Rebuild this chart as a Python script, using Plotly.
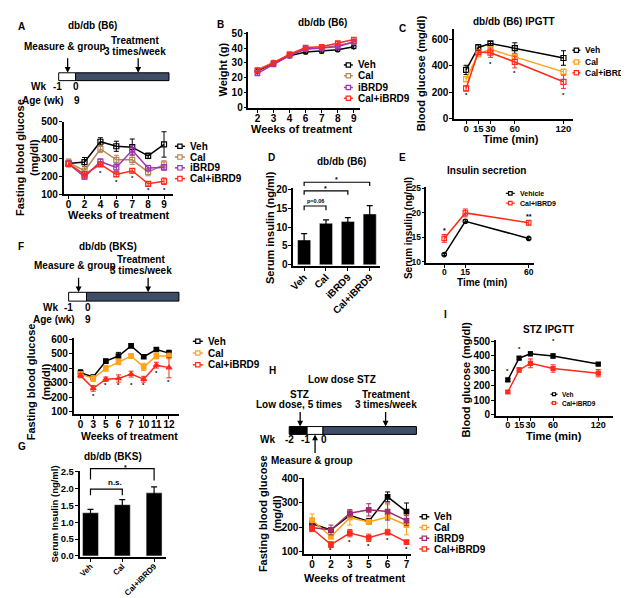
import plotly.graph_objects as go

W, H = 629, 598
FONT = "Liberation Sans, Arial, sans-serif"

# ---------------- DATA ----------------
A_weeks = ["0", "2", "4", "6", "7", "8", "9"]
A_veh = [270, 278, 390, 365, 360, 312, 375]
A_veh_err = [18, 25, 22, 28, 45, 15, 70]
A_cal = [275, 230, 350, 290, 290, 222, 265]
A_cal_err = [20, 25, 20, 25, 25, 20, 20]
A_ibrd = [268, 197, 280, 248, 343, 245, 248]
A_ibrd_err = [15, 12, 15, 20, 25, 15, 15]
A_combo = [268, 210, 265, 210, 230, 158, 172]
A_combo_err = [12, 15, 12, 12, 12, 12, 18]
A_star_idx = [2, 3, 4, 5, 6]
A_star_y = [215, 166, 188, 122, 122]

B_weeks = ["2", "3", "4", "6", "7", "8", "9"]
B_veh = [24.5, 29.5, 35, 37.5, 38, 39, 41]
B_cal = [25.5, 30.5, 35.5, 39.5, 40, 42, 44]
B_ibrd = [23, 29, 35, 39.5, 40, 41, 44.5]
B_combo = [25, 30, 36, 40.5, 41, 43.5, 46]
B_err = [1.2, 1.2, 1.0, 1.2, 1.2, 1.2, 1.2]

C_time = [0, 15, 30, 60, 120]
C_veh = [370, 540, 570, 535, 460]
C_veh_err = [35, 22, 15, 40, 55]
C_cal = [300, 490, 525, 470, 355]
C_cal_err = [20, 20, 20, 20, 20]
C_combo = [230, 505, 500, 430, 280]
C_combo_err = [20, 20, 35, 45, 50]
C_star_x = [0, 30, 60, 120]
C_star_y = [178, 415, 348, 178]

D_groups = ["Veh", "Cal", "iBRD9", "Cal+iBRD9"]
D_mean = [6.6, 11.0, 11.5, 13.5]
D_err = [1.7, 0.9, 1.0, 2.2]

E_time = [0, 15, 60]
E_veh = [11.5, 18.3, 14.8]
E_veh_err = [0.2, 0.3, 0.2]
E_combo = [14.8, 20.0, 18.0]
E_combo_err = [0.8, 0.8, 0.5]

F_weeks = ["0", "3", "5", "6", "7", "10", "11", "12"]
F_veh = [370, 340, 450, 485, 555, 480, 530, 505]
F_veh_err = [20, 10, 10, 25, 12, 10, 12, 20]
F_cal = [360, 330, 400, 445, 485, 410, 485, 485]
F_cal_err = [15, 20, 20, 20, 15, 25, 20, 20]
F_combo = [350, 262, 325, 330, 360, 325, 422, 405]
F_combo_err = [15, 20, 15, 25, 20, 20, 20, 70]
F_star_idx = [1, 2, 3, 4, 5, 6, 7]
F_star_y = [208, 282, 282, 282, 282, 368, 303]

G_groups = ["Veh", "Cal", "Cal+iBRD9"]
G_mean = [1.28, 1.52, 1.87]
G_err = [0.10, 0.15, 0.18]

H_weeks = ["0", "2", "3", "5", "6", "7"]
H_veh = [215, 190, 250, 225, 325, 265]
H_veh_err = [15, 10, 10, 12, 20, 35]
H_cal = [230, 163, 240, 222, 243, 210]
H_cal_err = [25, 10, 30, 10, 50, 40]
H_ibrd = [200, 190, 258, 272, 265, 228]
H_ibrd_err = [15, 20, 15, 25, 35, 20]
H_combo = [195, 130, 177, 158, 180, 140]
H_combo_err = [12, 12, 15, 15, 10, 8]
H_star_idx = [1, 2, 3, 4, 5]
H_star_y = [110, 140, 124, 148, 112]

I_time = [0, 15, 30, 60, 120]
I_veh = [237, 385, 415, 400, 345]
I_veh_err = [10, 10, 12, 15, 10]
I_combo = [155, 305, 350, 315, 283]
I_combo_err = [8, 15, 30, 25, 25]
I_star_x = [0, 15, 60]
I_star_y = [300, 450, 500]

# ---------------- COLOURS ----------------
BLACK = "#000000"
TAN = "#B5865E"
ORANGE = "#FFA31A"
PURPLE = "#A032B4"
MAROON = "#9E2D6E"
RED = "#FF2A1A"
DARK = "#3E4D68"

# ---------------- HELPERS ----------------
def px(x):
    return x / W

def py(y):
    return 1 - y / H

def lin_range(v0, p0, v1, p1, d0, d1):
    s = (v1 - v0) / (p1 - p0)
    return [v0 + (d0 - p0) * s, v0 + (d1 - p0) * s]

def cat_range(n, first, last, d0, d1):
    sp = (last - first) / (n - 1)
    return [-(first - d0) / sp, (n - 1) + (d1 - last) / sp]

fig = go.Figure()
layout = {}
annotations = []
shapes = []
counter = [0]

def tfont(size=9.5, color=BLACK):
    return dict(family=FONT, size=size, color=color, weight="bold")

def add_axes(xd, yd, xr, yr, xcat=False, xtickvals=None, ytickvals=None, tickangle=0,
             tsize=10, xtsize=None):
    counter[0] += 1
    n = counter[0]
    sfx = "" if n == 1 else str(n)
    common = dict(showline=True, linecolor=BLACK, linewidth=1.5, ticks="outside",
                  ticklen=3, tickwidth=1.3, tickcolor=BLACK, showgrid=False,
                  zeroline=False, tickfont=tfont(tsize), fixedrange=True)
    xa = dict(common, domain=[px(xd[0]), px(xd[1])], range=xr, anchor="y" + sfx,
              tickangle=tickangle, tickfont=tfont(xtsize if xtsize else tsize),
              ticklabelstandoff=-3)
    if xcat:
        xa["type"] = "category"
    else:
        xa["tickvals"] = xtickvals
    ya = dict(common, domain=[py(yd[1]), py(yd[0])], range=yr, anchor="x" + sfx,
              tickvals=ytickvals, ticklabelstandoff=-1)
    layout["xaxis" + sfx] = xa
    layout["yaxis" + sfx] = ya
    return "x" + sfx, "y" + sfx

def line_trace(xa, ya, x, y, err, color, symbol, size=5, width=1.5):
    fig.add_trace(go.Scatter(
        x=x, y=y, xaxis=xa, yaxis=ya, mode="lines+markers",
        line=dict(color=color, width=width),
        marker=dict(color=color, symbol=symbol, size=size, line=dict(color=color, width=1.2)),
        error_y=dict(type="data", array=err, color=color, thickness=1, width=2.5, visible=True),
        showlegend=False, hoverinfo="skip"))

def text(x, y, s, size=10, xanchor="center", angle=0, color=BLACK):
    annotations.append(dict(x=px(x), y=py(y), xref="paper", yref="paper", text=s,
                            showarrow=False, font=tfont(size, color), xanchor=xanchor,
                            yanchor="middle", textangle=angle))

def arrow(x, y0, y1):
    # tail at pixel y0, head at pixel y1
    annotations.append(dict(x=px(x), y=py(y1), xref="paper", yref="paper",
                            axref="pixel", ayref="pixel", ax=0, ay=(y0 - y1), text="",
                            showarrow=True, arrowhead=2, arrowsize=0.9, arrowwidth=1.3,
                            arrowcolor=BLACK))

def rect(x0, x1, y0, y1, fill):
    shapes.append(dict(type="rect", xref="paper", yref="paper", x0=px(x0), x1=px(x1),
                       y0=py(y1), y1=py(y0), fillcolor=fill, line=dict(color=BLACK, width=1)))

def legend(entries, lx0, lx1, ys, size=10, msize=2.2, lw=1.5):
    for (name, color), y in zip(entries, ys):
        shapes.append(dict(type="line", xref="paper", yref="paper", x0=px(lx0), x1=px(lx1),
                           y0=py(y), y1=py(y), line=dict(color=color, width=lw)))
        xm = (lx0 + lx1) / 2
        shapes.append(dict(type="rect", xref="paper", yref="paper", x0=px(xm - msize),
                           x1=px(xm + msize), y0=py(y + msize), y1=py(y - msize),
                           fillcolor="white", line=dict(color=color, width=1.2)))
        text(lx1 + 3, y, name, size=size, xanchor="left")

def stars(xa, ya, xs, ys, s="*", size=6):
    for xv, yv in zip(xs, ys):
        annotations.append(dict(x=xv, y=yv, xref=xa, yref=ya, text=s, showarrow=False,
                                font=tfont(size), xanchor="center", yanchor="middle"))

def bracket(first, sp, v0, p0, pscale, i0, i1, ytop, ylow0, ylow1, label, lsize=7, lshift=-3):
    # converts category index / value into pixel positions of the panel
    def X(i):
        return px(first + sp * i)
    def Y(v):
        return py(p0 - (v - v0) * pscale)
    shapes.append(dict(type="path", xref="paper", yref="paper",
                       path=f"M {X(i0)} {Y(ylow0)} L {X(i0)} {Y(ytop)} L {X(i1)} {Y(ytop)} L {X(i1)} {Y(ylow1)}",
                       line=dict(color=BLACK, width=1.2)))
    annotations.append(dict(x=(X(i0) + X(i1)) / 2, y=Y(ytop), xref="paper", yref="paper",
                            text=label, showarrow=False, font=tfont(lsize), yanchor="bottom",
                            yshift=lshift))

# ---------------- PANEL A ----------------
text(4, 13, "A", 10, "left")
text(81, 12, "db/db (B6)")
text(53, 33, "Measure & group")
text(124, 27, "Treatment")
text(124, 38, "3 times/week")
rect(47, 64, 60, 68, "white")
rect(64, 158, 60, 68, DARK)
arrow(56, 44, 60)
arrow(127, 44, 60)
text(27, 74, "Wk")
text(46, 74, "-1")
text(64, 74, "0")
text(31, 88, "Age (wk)")
text(65, 88, "9")

xa, ya = add_axes([52, 162], [110, 184], cat_range(7, 57, 153, 52, 162),
                  [100, 500], xcat=True, ytickvals=[100, 200, 300, 400, 500])
line_trace(xa, ya, A_weeks, A_veh, A_veh_err, BLACK, "square-open")
line_trace(xa, ya, A_weeks, A_cal, A_cal_err, TAN, "square-open")
line_trace(xa, ya, A_weeks, A_ibrd, A_ibrd_err, PURPLE, "square-open")
line_trace(xa, ya, A_weeks, A_combo, A_combo_err, RED, "square-open")
stars(xa, ya, A_star_idx, A_star_y)
text(15, 146, "Fasting blood glucose<br>(mg/dl)", 11, angle=-90)
text(108, 205, "Weeks of treatment", 11)
legend([("Veh", BLACK), ("Cal", TAN), ("iBRD9", PURPLE), ("Cal+iBRD9", RED)],
       164, 174, [135, 146, 157, 168])

# ---------------- PANEL B ----------------
text(204, 11, "B", 10, "left")
text(312, 9, "db/db (B6)")
xa, ya = add_axes([238, 350], [18, 96], cat_range(7, 247, 344, 238, 350),
                  lin_range(50, 20, 0, 95, 96, 18), xcat=True,
                  ytickvals=[0, 10, 20, 30, 40, 50])
line_trace(xa, ya, B_weeks, B_veh, B_err, BLACK, "circle-open", 4.5)
line_trace(xa, ya, B_weeks, B_cal, B_err, TAN, "circle-open", 4.5)
line_trace(xa, ya, B_weeks, B_ibrd, B_err, PURPLE, "square-open", 4.5)
line_trace(xa, ya, B_weeks, B_combo, B_err, RED, "square-open", 4.5)
text(212, 57, "Weight (g)", 11, angle=-90)
text(292, 117, "Weeks of treatment", 11)
legend([("Veh", BLACK), ("Cal", TAN), ("iBRD9", PURPLE), ("Cal+iBRD9", RED)],
       334, 343, [52, 63, 75, 86])

# ---------------- PANEL C ----------------
text(387, 15, "C", 10, "left")
text(505, 8, "db/db (B6) IPGTT")
xa, ya = add_axes([445, 565], [15, 107], lin_range(0, 457, 120, 555, 445, 565),
                  lin_range(600, 26, 0, 107, 107, 15), xtickvals=[0, 15, 30, 60, 120],
                  ytickvals=[0, 200, 400, 600], xtsize=9.5)
line_trace(xa, ya, C_time, C_veh, C_veh_err, BLACK, "square-open")
line_trace(xa, ya, C_time, C_cal, C_cal_err, ORANGE, "square-open")
line_trace(xa, ya, C_time, C_combo, C_combo_err, RED, "square-open")
stars(xa, ya, C_star_x, C_star_y)
text(411, 60, "Blood glucose (mg/dl)", 11, angle=-90)
text(502, 128, "Time (min)", 11)
legend([("Veh", BLACK), ("Cal", ORANGE), ("Cal+iBRD9", RED)], 564, 572, [37, 49, 60], size=8.5)

# ---------------- PANEL D ----------------
text(256, 146, "D", 10, "left")
text(332, 151, "db/db (B6)")
xa, ya = add_axes([283, 370], [178, 257], cat_range(4, 294, 360, 283, 370),
                  lin_range(20, 179, 0, 256, 257, 178), xcat=True,
                  ytickvals=[0, 5, 10, 15, 20], tickangle=-45)
fig.add_trace(go.Bar(x=D_groups, y=D_mean, xaxis=xa, yaxis=ya, marker=dict(color=BLACK),
                     width=0.6,
                     error_y=dict(type="data", array=D_err, color=BLACK, thickness=1.2, width=3),
                     showlegend=False, hoverinfo="skip"))
D_map = (294, 22, 0, 256, 77 / 20)
bracket(*D_map, 0, 1, 15.6, 14.5, 14.5, "p=0.06", 5.5, 0)
bracket(*D_map, 0, 2, 19.6, 18.6, 18.6, "*", 7)
bracket(*D_map, 0, 3, 21.9, 20.9, 20.9, "*", 7)
text(259, 218, "Serum insulin (ng/ml)", 11, angle=-90)

# ---------------- PANEL E ----------------
text(387, 146, "E", 10, "left")
text(478, 160, "Insulin secretion")
xa, ya = add_axes([417, 525], [177, 254], lin_range(0, 435, 60, 520, 417, 525),
                  lin_range(25, 178, 10, 253, 254, 177), xtickvals=[0, 15, 60],
                  ytickvals=[10, 15, 20, 25], tsize=8.5)
line_trace(xa, ya, E_time, E_veh, E_veh_err, BLACK, "circle-open", 4.5)
line_trace(xa, ya, E_time, E_combo, E_combo_err, RED, "square-open", 4.5)
stars(xa, ya, [0], [16.4], "*", 7)
stars(xa, ya, [60], [19.3], "**", 7)
text(399, 218, "Serum insulin (ng/ml)", 10, angle=-90)
text(473, 274, "Time (min)", 10)
legend([("Vehicle", BLACK), ("Cal+iBRD9", RED)], 497, 506, [183, 193], size=7, msize=1.8, lw=1.2)

# ---------------- PANEL F ----------------
text(4, 237, "F", 10, "left")
text(97, 237, "db/db (BKS)")
text(63, 257, "Measure & group")
text(130, 251, "Treatment")
text(130, 262, "3 times/week")
rect(57, 75, 284, 293, "white")
rect(75, 168, 284, 293, DARK)
arrow(67, 268, 284)
arrow(137, 268, 284)
text(39, 299, "Wk")
text(57, 299, "-1")
text(76, 299, "0")
text(42, 312, "Age (wk)")
text(76, 312, "9")
xa, ya = add_axes([62, 168], [331, 408], cat_range(8, 69, 158, 62, 168),
                  lin_range(600, 332, 100, 406, 408, 331), xcat=True,
                  ytickvals=[100, 200, 300, 400, 500, 600])
line_trace(xa, ya, F_weeks, F_veh, F_veh_err, BLACK, "square", 4.5)
line_trace(xa, ya, F_weeks, F_cal, F_cal_err, ORANGE, "square", 4.5)
line_trace(xa, ya, F_weeks, F_combo, F_combo_err, RED, "triangle-up", 5)
stars(xa, ya, F_star_idx, F_star_y)
text(27, 375, "Fasting blood glucose<br>(mg/dl)", 11, angle=-90)
text(118, 431, "Weeks of treatment", 10.5)
legend([("Veh", BLACK), ("Cal", ORANGE), ("Cal+iBRD9", RED)], 182, 192, [334, 346, 358])

# ---------------- PANEL G ----------------
text(4, 441, "G", 10, "left")
text(102, 452, "db/db (BKS)")
xa, ya = add_axes([68, 155], [466, 554], cat_range(3, 79, 143, 68, 155),
                  lin_range(2.5, 467, 0, 553, 554, 466), xcat=True,
                  ytickvals=[0, 0.5, 1.0, 1.5, 2.0, 2.5], tickangle=-45, tsize=9.5, xtsize=8)
layout["yaxis" + str(counter[0])]["tickformat"] = ".1f"
fig.add_trace(go.Bar(x=G_groups, y=G_mean, xaxis=xa, yaxis=ya, marker=dict(color=BLACK),
                     width=0.5,
                     error_y=dict(type="data", array=G_err, color=BLACK, thickness=1.2, width=3),
                     showlegend=False, hoverinfo="skip"))
G_map = (79, 32, 0, 553, 86 / 2.5)
bracket(*G_map, 0, 1, 1.98, 1.8, 1.8, "n.s.", 8, 0)
bracket(*G_map, 0, 2, 2.59, 2.27, 2.24, "*", 7, -4)
text(43, 510, "Serum Insulin (ng/ml)", 9.5, angle=-90)

# ---------------- PANEL H ----------------
text(257, 364, "H", 10, "left")
text(332, 373, "Low dose STZ")
text(289, 388, "STZ")
text(289, 399, "Low dose, 5 times")
text(376, 388, "Treatment")
text(376, 399, "3 times/week")
rect(279, 297, 421, 429, BLACK)
rect(297, 313, 421, 429, "white")
rect(313, 407, 421, 429, DARK)
arrow(290, 405, 421)
arrow(376, 405, 421)
arrow(305, 449, 429)
text(257, 434, "Wk")
text(279, 434, "-2")
text(295, 434, "-1")
text(314, 434, "0")
text(302, 456, "Measure & group")
xa, ya = add_axes([294, 402], [473, 551], cat_range(6, 302, 397, 294, 402),
                  lin_range(400, 474, 100, 549, 551, 473), xcat=True,
                  ytickvals=[100, 200, 300, 400])
line_trace(xa, ya, H_weeks, H_veh, H_veh_err, BLACK, "square", 4.5)
line_trace(xa, ya, H_weeks, H_cal, H_cal_err, ORANGE, "square", 4.5)
line_trace(xa, ya, H_weeks, H_ibrd, H_ibrd_err, MAROON, "square", 4.5)
line_trace(xa, ya, H_weeks, H_combo, H_combo_err, RED, "square", 4.5)
stars(xa, ya, H_star_idx, H_star_y)
text(259, 510, "Fasting blood glucose<br>(mg/dl)", 11, angle=-90)
text(345, 576, "Weeks of treatment", 11)
legend([("Veh", BLACK), ("Cal", ORANGE), ("iBRD9", MAROON), ("Cal+iBRD9", RED)],
       410, 420, [513, 524, 535, 546])

# ---------------- PANEL I ----------------
text(433, 307, "I", 10, "left")
text(540, 322, "STZ IPGTT")
xa, ya = add_axes([487, 605], [333, 410], lin_range(0, 499, 120, 590, 487, 605),
                  lin_range(500, 334, 0, 409, 410, 333), xtickvals=[0, 15, 30, 60, 120],
                  ytickvals=[0, 100, 200, 300, 400, 500], xtsize=9)
line_trace(xa, ya, I_time, I_veh, I_veh_err, BLACK, "square", 4)
line_trace(xa, ya, I_time, I_combo, I_combo_err, RED, "square", 4)
stars(xa, ya, I_star_x, I_star_y)
text(456, 373, "Blood glucose (mg/dl)", 11, angle=-90)
text(545, 431, "Time (min)", 11)
legend([("Veh", BLACK), ("Cal+iBRD9", RED)], 542, 549, [388, 397], size=6.5, msize=1.5, lw=1.2)

fig.update_layout(**layout)
fig.update_layout(width=W, height=H, margin=dict(l=0, r=0, t=0, b=0),
                  paper_bgcolor="white", plot_bgcolor="white",
                  annotations=annotations, shapes=shapes, showlegend=False,
                  font=dict(family=FONT, color=BLACK))
fig.write_html("out.html")
